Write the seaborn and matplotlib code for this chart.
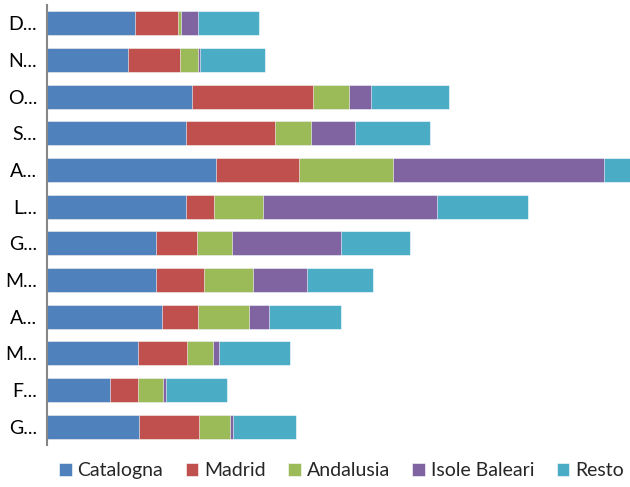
import matplotlib
matplotlib.use("Agg")
import matplotlib.pyplot as plt
import seaborn as sns
import pandas as pd

# Months, top to bottom as in the chart
months = ["Dicembre", "Novembre", "Ottobre", "Settembre", "Agosto", "Luglio",
          "Giugno", "Maggio", "Aprile", "Marzo", "Febbraio", "Gennaio"]
month_labels = [m[0] + "..." for m in months]

regions = ["Catalogna", "Madrid", "Andalusia", "Isole Baleari", "Resto"]

# values (arbitrary units)
catalogna = [88, 81, 145, 139, 169, 139, 109, 109, 115, 91, 63, 92]
madrid = [43, 52, 121, 89, 83, 28, 41, 48, 36, 49, 28, 60]
andalusia = [3, 18, 36, 36, 94, 49, 35, 49, 51, 26, 25, 31]
baleari = [17, 2, 22, 44, 211, 174, 109, 54, 20, 6, 3, 3]
resto = [61, 65, 78, 75, 27, 91, 69, 66, 72, 71, 61, 63]

colors = ["#4F81BD", "#C0504D", "#9BBB59", "#8064A2", "#4BACC6"]

df = pd.DataFrame({"mese": months, "Catalogna": catalogna, "Madrid": madrid,
                   "Andalusia": andalusia, "Isole Baleari": baleari, "Resto": resto})

# cumulative sums for the stacked look
cum = df[regions].cumsum(axis=1)
cum["mese"] = df["mese"]

sns.set_style("white")
plt.rcParams["font.family"] = ["Lato", "DejaVu Sans"]

fig = plt.figure(figsize=(6.3, 4.87), dpi=100)
ax = fig.add_axes([0.0746, 0.086, 0.9254, 0.904])

# draw from the longest (total) back to the first series
for reg, col in reversed(list(zip(regions, colors))):
    sns.barplot(data=cum, x=reg, y="mese", order=months, color=col,
                width=0.65, edgecolor="#ffffff", linewidth=0.4, label=reg,
                errorbar=None, ax=ax, saturation=1)

ax.set_xlim(0, 583)
ax.set_xlabel("")
ax.set_ylabel("")
ax.set_xticks([])
ax.set_yticks(range(len(months)))
ax.set_yticklabels(month_labels)
for s in ["top", "right", "bottom"]:
    ax.spines[s].set_visible(False)
ax.spines["left"].set_color("#868686")
ax.spines["left"].set_linewidth(1.5)
ax.tick_params(axis="y", length=0, pad=7, labelsize=14, labelcolor="#000000")

handles, labels = ax.get_legend_handles_labels()
if ax.get_legend() is not None:
    ax.get_legend().remove()
order = [labels.index(r) for r in regions]
fig.legend([handles[i] for i in order], regions, loc="center",
           bbox_to_anchor=(0.542, 0.033), ncol=5, frameon=False,
           fontsize=14, handlelength=0.65, handleheight=0.65,
           handletextpad=0.3, columnspacing=1.15)

fig.savefig("out.png", dpi=100)
